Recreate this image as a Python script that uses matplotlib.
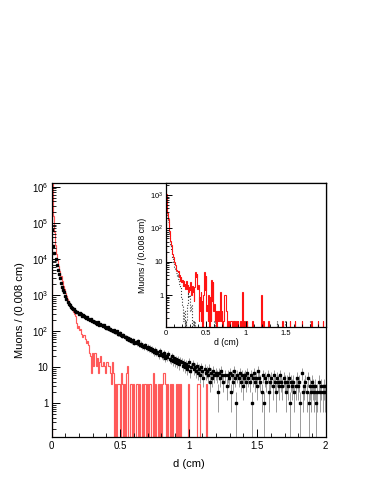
import numpy as np
import matplotlib
matplotlib.use("Agg")
import matplotlib.pyplot as plt
from matplotlib.ticker import FixedLocator, NullFormatter, MultipleLocator, FixedFormatter

plt.rcParams['font.family'] = ['Liberation Sans', 'DejaVu Sans']
plt.rcParams['mathtext.fontset'] = 'custom'
plt.rcParams['mathtext.rm'] = 'Liberation Sans'
plt.rcParams['mathtext.default'] = 'regular'

# ---------------- data ----------------
x_range = (0.0, 2.0)
n_bins = 250  # 0.008 cm bins

# main: black points (counts per bin)
black_counts = [
    65000, 23000, 15000, 10000, 7000, 5000, 3800, 2900, 2200, 1700,
    1400, 1180, 950, 800, 660, 570, 520, 470, 450, 420,
    400, 370, 350, 330, 300, 310, 290, 270, 280, 255,
    245, 230, 240, 215, 205, 220, 195, 190, 180, 185,
    170, 160, 175, 150, 155, 145, 140, 148, 130, 125,
    120, 128, 112, 118, 105, 100, 108, 95, 92, 98,
    85, 82, 90, 76, 72, 80, 68, 70, 62, 65,
    58, 60, 55, 52, 57, 48, 50, 46, 52, 44,
    42, 45, 38, 40, 36, 41, 34, 37, 32, 35,
    30, 33, 28, 26, 31, 25, 27, 22, 29, 24,
    22, 20, 25, 18, 21, 19, 23, 17, 16, 20,
    15, 18, 14, 17, 13, 16, 12, 15, 14, 11,
    13, 10, 12, 9, 11, 14, 8, 10, 12, 9,
    10, 8, 11, 7, 9, 6, 10, 8, 5, 9,
    7, 8, 6, 9, 4, 7, 5, 8, 6, 7,
    6, 2, 7, 5, 8, 6, 4, 0, 6, 3,
    6, 5, 7, 2, 6, 4, 8, 5, 1, 6,
    5, 7, 4, 6, 3, 5, 6, 4, 7, 5,
    4, 6, 1, 5, 7, 4, 5, 3, 8, 5,
    4, 2, 6, 1, 5, 4, 0, 6, 2, 4,
    5, 3, 6, 4, 2, 5, 4, 3, 6, 4,
    3, 5, 4, 2, 4, 3, 5, 1, 4, 3,
    4, 2, 3, 5, 3, 4, 1, 0, 7, 2,
    3, 4, 2, 5, 1, 3, 2, 4, 3, 2,
    3, 1, 2, 4, 2, 3, 0, 2, 3, 2,
]

# main: red histogram (normalised)
red_main = [
    2.2e6, 1.5e5, 5.5e4, 2.5e4, 1.4e4, 9.5e3, 6.5e3, 4.6e3, 3.3e3, 2.4e3,
    1.8e3, 1.45e3, 1.15e3, 950, 790, 680, 560, 480, 420, 340,
    290, 260, 170, 125, 140, 105, 115, 85, 70, 77,
    60, 46, 52, 42, 24.5, 21, 7, 24.5, 10.5, 24.5,
    10.5, 17.5, 7, 14, 21, 10.5, 10.5, 14, 10.5, 7,
    14, 10.5, 10.5, 7, 3.5, 14, 7,
    0, 3.5, 0, 3.5, 3.5, 0, 7, 3.5, 0, 3.5,
    0, 7, 10.5, 0, 3.5, 3.5, 0, 3.5, 0, 0,
    3.5, 3.5, 0, 3.5, 0, 3.5, 0, 3.5, 3.5, 0,
    3.5, 0, 3.5, 3.5, 0, 7, 0, 3.5, 0, 0,
    3.5, 0, 3.5, 0, 3.5, 7, 3.5, 0, 3.5, 0,
    0, 3.5, 0, 3.5, 0, 0, 3.5, 0, 3.5, 0,
    3.5, 0, 0, 0, 0, 0, 0, 3.5, 0, 0,
    0, 0, 0, 0, 0, 0, 3.5, 3.5, 0, 0,
    0, 0, 0, 0, 3.5,
] + [0] * 108

# inset: red histogram
red_inset = [
    1100, 520, 290, 185, 125, 85, 58, 42, 31, 23,
    17, 14, 11, 9.5, 8, 6.8, 5.6, 5.1, 4.8, 5.3,
    3.4, 4.1, 2.7, 3.4, 2.4, 2.9, 1.9, 2.6, 1.9, 2.2,
    1.5, 2.0, 2.7, 1.5, 2.0, 1.2, 1.7, 1.4, 2.4, 1.0,
    1.5, 1.9, 1.2, 0.68, 1.7, 2.2, 4.8, 3.4, 4.4, 1.5,
    2.0, 0.17, 0.85, 0.34, 1.2, 0.17, 0.68, 0, 1.0, 2.0,
    4.8, 1.4, 3.7, 0.34, 0.51, 0.17, 1.0, 0, 0.34, 0.85,
    0.17, 2.9, 0.68, 2.4, 0.34, 0.55, 0.17, 0.34, 0, 0.17,
    0.34, 0.17, 0.34, 0.17, 1.2, 1.2, 0.17, 0.34, 0, 0.17,
    1.0, 1.0, 1.0, 0.51, 0.34, 0.17, 0, 0.17, 0.17, 0,
    0.17, 0.17, 0.17, 0, 0.17, 0.17, 0, 0.17, 0, 0,
    0.17, 0, 0.17, 0, 0, 0.17, 0.17, 0, 0.17, 1.2,
    0, 0, 0.17, 0, 0, 0, 0.17, 0, 0, 0,
    0, 0, 0, 0, 0, 0.17, 0, 0, 0, 0,
    0, 0, 0, 0, 0, 0, 0, 0, 0, 1.0,
    0, 0, 0.17, 0, 0, 0, 0, 0, 0, 0,
    0.17, 0, 0, 0, 0, 0, 0, 0, 0, 0,
    0, 0, 0, 0, 0, 0, 0, 0, 0, 0,
    0, 0, 0.17, 0, 0, 0, 0, 0, 0, 0,
    0, 0, 0, 0.17, 0, 0, 0, 0, 0, 0,
    0, 0.17, 0, 0, 0, 0, 0, 0, 0, 0,
    0, 0, 0.17, 0, 0, 0, 0, 0, 0, 0,
    0, 0, 0, 0, 0, 0, 0, 0.17, 0, 0,
    0, 0, 0, 0, 0, 0, 0, 0.17, 0, 0,
    0, 0, 0, 0, 0, 0.17, 0, 0, 0, 0,
]

# inset: dotted grey histogram
grey_inset = [
    1000, 450, 250, 160, 100, 65, 45, 32, 24, 17,
    13, 10, 8.5, 7, 6, 5, 4.5, 3.8, 4.2, 3,
    2.6, 2.2, 1.7, 1.2, 0.85, 0.5, 0.34, 0.17, 0.34, 0,
    0.17, 0, 0.17, 0.5, 1.2, 0.85, 1.0, 0.68, 0.34, 0.51,
    0.17, 0, 0.17, 0, 0.17,
] + [0] * 30 + [0.17] + [0] * 49 + [0.17] + [0] * 47 + [0.17] + [0] * 12 + [0.17] + [0] * 38 + [0.17] + [0] * 24

main_ylabels = ['1', '10', '$10^{2}$', '$10^{3}$', '$10^{4}$', '$10^{5}$', '$10^{6}$']
inset_ylabels = ['1', '10', '$10^{2}$', '$10^{3}$']
xtick_labels = ['0', '0.5', '1', '1.5', '2']

# ---------------- plotting ----------------
edges = np.linspace(x_range[0], x_range[1], n_bins + 1)
centers = 0.5 * (edges[:-1] + edges[1:])
half_w = 0.5 * (edges[1] - edges[0])
floor = 1e-6


def log_ticks(ax, decades, labels, size, pad, maj, mnr):
    ax.set_yscale('log')
    majors = [10.0 ** k for k in decades]
    minors = [m * 10.0 ** k for k in range(decades[0] - 1, decades[-1] + 1) for m in range(2, 10)]
    ax.yaxis.set_major_locator(FixedLocator(majors))
    ax.yaxis.set_major_formatter(FixedFormatter(labels))
    ax.yaxis.set_minor_locator(FixedLocator(minors))
    ax.yaxis.set_minor_formatter(NullFormatter())
    ax.tick_params(axis='y', which='major', direction='in', length=maj, width=0.7,
                   labelsize=size, pad=pad, right=False)
    ax.tick_params(axis='y', which='minor', direction='in', length=mnr, width=0.6, right=False)


def x_ticks(ax, size, pad, maj, mnr):
    ax.xaxis.set_major_locator(FixedLocator([0, 0.5, 1, 1.5, 2]))
    ax.xaxis.set_major_formatter(FixedFormatter(xtick_labels))
    ax.xaxis.set_minor_locator(MultipleLocator(0.1))
    ax.tick_params(axis='x', which='major', direction='in', length=maj, width=0.7,
                   labelsize=size, pad=pad, top=False)
    ax.tick_params(axis='x', which='minor', direction='in', length=mnr, width=0.6, top=False)


fig = plt.figure(figsize=(3.71, 4.80), dpi=100)

# main axes
ax = fig.add_axes([0.13935, 0.08958, 0.73854, 0.52917])
rm = np.asarray(red_main, dtype=float)
ax.stairs(np.where(rm > 0, rm, floor), edges, baseline=floor,
          color=(1.0, 0.35, 0.35), lw=0.85)
bc = np.asarray(black_counts, dtype=float)
m = bc > 0
err = np.sqrt(bc[m])
lo = np.minimum(err, bc[m] - floor)
ax.errorbar(centers[m], bc[m], yerr=[lo, err], fmt='none',
            ecolor=(0.45, 0.45, 0.45), elinewidth=0.5, capsize=0)
ax.errorbar(centers[m], bc[m], xerr=half_w, fmt='s', ms=1.7,
            mfc='black', mec='black', ecolor='black',
            elinewidth=0.8, capsize=0)
ax.set_xlim(*x_range)
ax.set_ylim(0.117, 1.27e6)
log_ticks(ax, list(range(0, 7)), main_ylabels, 7, 2.5, 6, 3)
x_ticks(ax, 7, 3, 6, 3)
for s in ax.spines.values():
    s.set_linewidth(0.9)
ax.set_xlabel('d (cm)', fontsize=8)
ax.xaxis.set_label_coords(0.5, -0.085)
ax.set_ylabel('Muons / (0.008 cm)', fontsize=8)
ax.yaxis.set_label_coords(-0.097, 0.5)

# inset axes
ins = fig.add_axes([0.44744, 0.31875, 0.43127, 0.30])
ri = np.asarray(red_inset, dtype=float)
gi = np.asarray(grey_inset, dtype=float)
ins.stairs(np.where(gi > 0, gi, floor), edges, baseline=floor,
           color=(0.25, 0.25, 0.25), lw=0.8, ls=':')
ins.stairs(np.where(ri > 0, ri, floor), edges, baseline=floor,
           color=(1.0, 0.08, 0.08), lw=0.8)
ins.set_xlim(*x_range)
ins.set_ylim(0.11, 2300)
log_ticks(ins, list(range(0, 4)), inset_ylabels, 5.5, 2, 4.5, 2.2)
x_ticks(ins, 5.5, 2.5, 4.5, 2.2)
ins.set_xticks([0, 0.5, 1, 1.5])
ins.set_xticklabels(xtick_labels[:4])
for s in ins.spines.values():
    s.set_linewidth(0.9)
ins.set_xlabel('d (cm)', fontsize=6.3)
ins.xaxis.set_label_coords(0.378, -0.075)
ins.set_ylabel('Muons / (0.008 cm)', fontsize=6.3)
ins.yaxis.set_label_coords(-0.12, 0.5)

fig.savefig('out.png', dpi=100)
